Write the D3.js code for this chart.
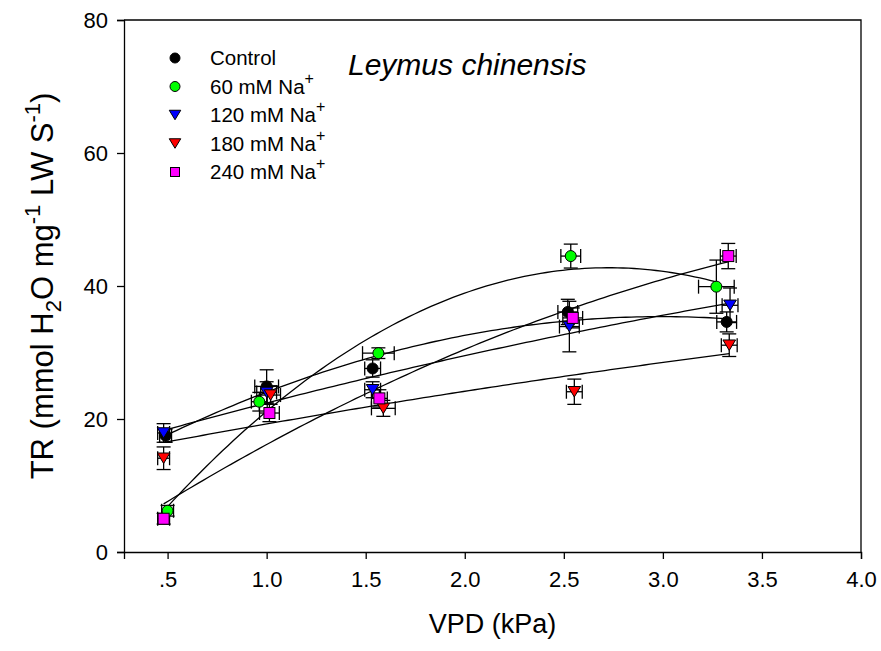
<!DOCTYPE html>
<html>
<head>
<meta charset="utf-8">
<script src="https://cdn.jsdelivr.net/npm/d3@7"></script>
<style>
  body { margin: 0; background: #fff; }
  text { font-family: Arial, "Liberation Sans", sans-serif; }
</style>
</head>
<body>
<svg id="chart" width="881" height="651"></svg>
<script>
// series (means, VPD kPa / TR)
const seriesNames = ["Control", "60 mM Na", "120 mM Na", "180 mM Na", "240 mM Na"]
const seriesColors = ["#000000", "#00ff00", "#0000ff", "#ff0000", "#ff00ff"]
const seriesShapes = ["circle", "circle", "triangle", "triangle", "square"]

const vpdControl = [0.49, 1.00, 1.535, 2.52, 3.322]
const trControl = [17.5, 24.9, 27.6, 36.1, 34.6]
const trErrControl = [1.0, 2.5, 1.3, 1.9, 1.5]
const vpdErrControl = [0.03, 0.06, 0.04, 0.05, 0.05]

const vpd60 = [0.50, 0.963, 1.564, 2.535, 3.27]
const tr60 = [6.2, 22.6, 29.9, 44.5, 39.9]
const trErr60 = [0.8, 1.4, 0.8, 1.8, 4.0]
const vpdErr60 = [0.03, 0.04, 0.08, 0.05, 0.09]

const vpd120 = [0.48, 1.0, 1.535, 2.528, 3.339]
const tr120 = [17.9, 24.0, 24.4, 33.9, 37.1]
const trErr120 = [1.4, 1.6, 1.2, 3.8, 2.6]
const vpdErr120 = [0.03, 0.05, 0.04, 0.05, 0.04]

const vpd180 = [0.48, 1.02, 1.589, 2.553, 3.335]
const tr180 = [14.1, 23.6, 21.6, 24.1, 31.1]
const trErr180 = [1.7, 1.4, 1.2, 1.9, 1.7]
const vpdErr180 = [0.03, 0.05, 0.06, 0.04, 0.04]

const vpd240 = [0.48, 1.014, 1.569, 2.545, 3.33]
const tr240 = [5.0, 20.9, 23.1, 35.2, 44.5]
const trErr240 = [0.8, 1.3, 1.3, 1.5, 1.9]
const vpdErr240 = [0.03, 0.05, 0.04, 0.05, 0.04]

const xTicks = [0.5, 1.0, 1.5, 2.0, 2.5, 3.0, 3.5, 4.0]
const xTickLabels = [".5", "1.0", "1.5", "2.0", "2.5", "3.0", "3.5", "4.0"]
const yTicks = [0, 20, 40, 60, 80]

const allX = [vpdControl, vpd60, vpd120, vpd180, vpd240]
const allY = [trControl, tr60, tr120, tr180, tr240]
const allYErr = [trErrControl, trErr60, trErr120, trErr180, trErr240]
const allXErr = [vpdErrControl, vpdErr60, vpdErr120, vpdErr180, vpdErr240]

const series = seriesNames.map((name, i) => ({
  name, color: seriesColors[i], shape: seriesShapes[i],
  points: allX[i].map((x, j) => ({x, y: allY[i][j], ex: allXErr[i][j], ey: allYErr[i][j]}))
}))

const svg = d3.select("#chart")
const mLeft = 124, mRight = 861, mTop = 20, mBottom = 552

const x = d3.scaleLinear().domain([0.28, 4.0]).range([mLeft, mRight])
const y = d3.scaleLinear().domain([0, 80]).range([mBottom, mTop])

// quadratic least squares fit, like the regression lines in the figure
function quadFit(pts) {
  let s = [0, 0, 0, 0, 0], t = [0, 0, 0]
  pts.forEach(p => {
    for (let k = 0; k < 5; k++) s[k] += Math.pow(p.x, k)
    for (let k = 0; k < 3; k++) t[k] += Math.pow(p.x, k) * p.y
  })
  const A = [[s[0], s[1], s[2], t[0]], [s[1], s[2], s[3], t[1]], [s[2], s[3], s[4], t[2]]]
  for (let i = 0; i < 3; i++) {
    for (let r = i + 1; r < 3; r++) {
      const f = A[r][i] / A[i][i]
      for (let c = i; c < 4; c++) A[r][c] -= f * A[i][c]
    }
  }
  const b = [0, 0, 0]
  for (let i = 2; i >= 0; i--) {
    let v = A[i][3]
    for (let c = i + 1; c < 3; c++) v -= A[i][c] * b[c]
    b[i] = v / A[i][i]
  }
  return xv => b[0] + b[1] * xv + b[2] * xv * xv
}

// axes
const xAxis = d3.axisBottom(x).tickValues(xTicks).tickFormat((d, i) => xTickLabels[i]).tickSizeOuter(0).tickSize(7).tickPadding(12)
const yAxis = d3.axisLeft(y).tickValues(yTicks).tickSizeOuter(0).tickSize(7).tickPadding(9)

const gx = svg.append("g").attr("transform", `translate(0,${mBottom})`).call(xAxis)
const gy = svg.append("g").attr("transform", `translate(${mLeft},0)`).call(yAxis)
;[gx, gy].forEach(g => {
  g.select(".domain").attr("stroke", "#000").attr("stroke-width", 1.3)
  g.selectAll(".tick line").attr("stroke", "#000").attr("stroke-width", 1.3)
  g.selectAll(".tick text").attr("fill", "#000").style("font-size", "22px")
})

// top and right frame
svg.append("path")
  .attr("d", d3.line()([[mLeft, mTop], [mRight, mTop], [mRight, mBottom]]))
  .attr("fill", "none").attr("stroke", "#000").attr("stroke-width", 1.3)

// fitted curves
const plot = svg.append("g")
series.forEach(s => {
  const f = quadFit(s.points)
  const [x0, x1] = d3.extent(s.points, p => p.x)
  const xs = d3.range(0, 101).map(k => x0 + (x1 - x0) * k / 100)
  plot.append("path")
    .attr("d", d3.line().x(v => x(v)).y(v => y(f(v)))(xs))
    .attr("fill", "none").attr("stroke", "#000").attr("stroke-width", 1.3)
})

// error bars
const cap = 7
series.forEach(s => {
  const g = plot.append("g")
  s.points.forEach(p => {
    const px = x(p.x), py = y(p.y)
    const segs = [
      [[px, y(p.y - p.ey)], [px, y(p.y + p.ey)]],
      [[px - cap, y(p.y - p.ey)], [px + cap, y(p.y - p.ey)]],
      [[px - cap, y(p.y + p.ey)], [px + cap, y(p.y + p.ey)]],
      [[x(p.x - p.ex), py], [x(p.x + p.ex), py]],
      [[x(p.x - p.ex), py - cap], [x(p.x - p.ex), py + cap]],
      [[x(p.x + p.ex), py - cap], [x(p.x + p.ex), py + cap]]
    ]
    segs.forEach(sg => g.append("path").attr("d", d3.line()(sg))
      .attr("stroke", "#000").attr("stroke-width", 1.3).attr("fill", "none"))
  })
})

// symbols
function symbol(g, shape, cx, cy, color, size) {
  if (shape === "circle") {
    g.append("circle").attr("cx", cx).attr("cy", cy).attr("r", size)
      .attr("fill", color).attr("stroke", "#000").attr("stroke-width", 1)
  } else if (shape === "triangle") {
    const h = size * 1.9, w = size * 1.15
    g.append("path").attr("d", `M${cx - w},${cy - h / 2}L${cx + w},${cy - h / 2}L${cx},${cy + h / 2}Z`)
      .attr("fill", color).attr("stroke", "#000").attr("stroke-width", 1)
  } else {
    g.append("rect").attr("x", cx - size).attr("y", cy - size).attr("width", size * 2).attr("height", size * 2)
      .attr("fill", color).attr("stroke", "#000").attr("stroke-width", 1)
  }
}
series.forEach(s => {
  const g = plot.append("g")
  s.points.forEach(p => symbol(g, s.shape, x(p.x), y(p.y), s.color, 5.5))
})

// legend
const legend = svg.append("g")
series.forEach((s, i) => {
  const ly = 58 + i * 28.5
  symbol(legend, s.shape, 175, ly, s.color, s.shape === "square" ? 4.5 : 5)
  const t = legend.append("text").attr("x", 210).attr("y", ly + 7).style("font-size", "20.5px").attr("fill", "#000")
  t.append("tspan").text(s.name)
  if (i > 0) t.append("tspan").attr("dy", -10).style("font-size", "16px").text("+")
})

svg.append("text").attr("x", 348).attr("y", 75)
  .style("font-size", "30px").style("font-style", "italic").text("Leymus chinensis")

// axis titles
svg.append("text").attr("x", (mLeft + mRight) / 2).attr("y", 633).attr("text-anchor", "middle")
  .style("font-size", "27px").text("VPD (kPa)")

const yt = svg.append("text").attr("transform", `translate(53,${(mTop + mBottom) / 2}) rotate(-90)`)
  .attr("text-anchor", "middle").style("font-size", "31px")
yt.append("tspan").text("TR (mmol H")
yt.append("tspan").attr("dy", 8).style("font-size", "22px").text("2")
yt.append("tspan").attr("dy", -8).text("O mg")
yt.append("tspan").attr("dy", -13).style("font-size", "22px").text("-1")
yt.append("tspan").attr("dy", 13).text(" LW S")
yt.append("tspan").attr("dy", -13).style("font-size", "22px").text("-1")
yt.append("tspan").attr("dy", 13).text(")")
</script>
</body>
</html>
